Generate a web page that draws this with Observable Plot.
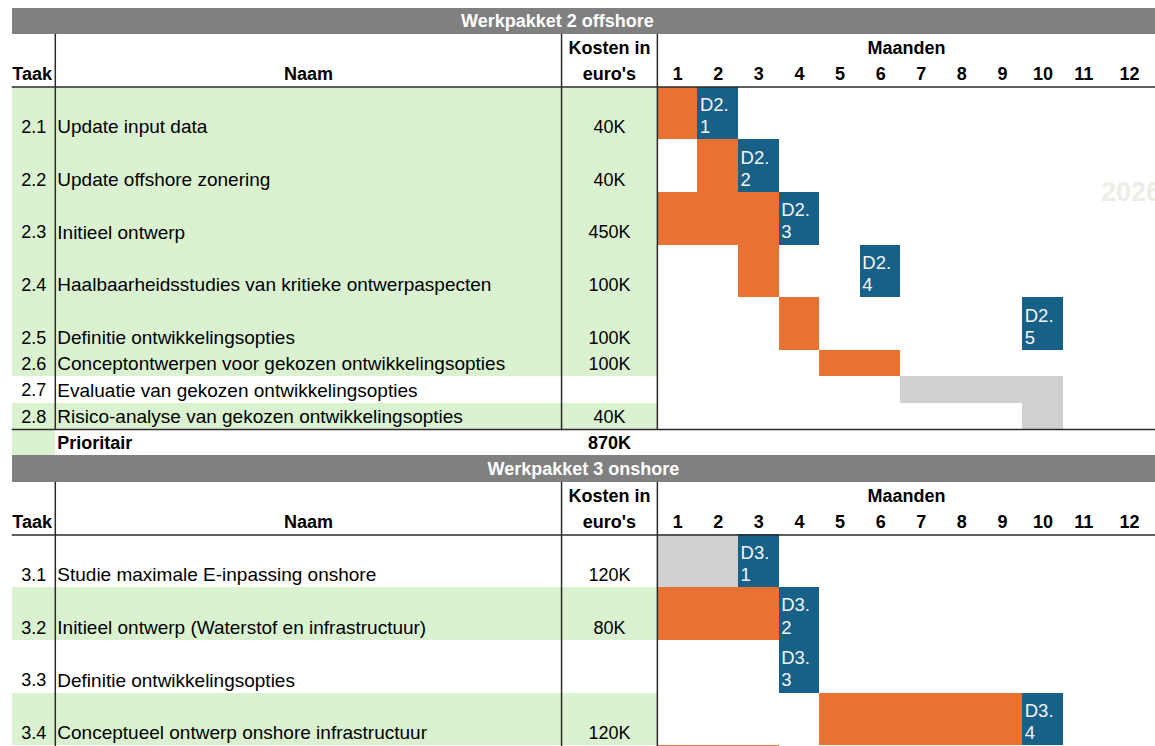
<!DOCTYPE html>
<html>
<head>
<meta charset="utf-8">
<script src="https://cdn.jsdelivr.net/npm/d3@7"></script>
<script src="https://cdn.jsdelivr.net/npm/@observablehq/plot@0.6"></script>
<style>
  html, body { margin: 0; padding: 0; background: #ffffff; }
  #chart svg { display: block; }
</style>
</head>
<body>
<div id="chart"></div>
<script>
// ---- Werkpakket 2: offshore ----
const wp2Title = "Werkpakket 2 offshore";
const wp2Ids = ["2.1", "2.2", "2.3", "2.4", "2.5", "2.6", "2.7", "2.8"];
const wp2Names = [
  "Update input data",
  "Update offshore zonering",
  "Initieel ontwerp",
  "Haalbaarheidsstudies van kritieke ontwerpaspecten",
  "Definitie ontwikkelingsopties",
  "Conceptontwerpen voor gekozen ontwikkelingsopties",
  "Evaluatie van gekozen ontwikkelingsopties",
  "Risico-analyse van gekozen ontwikkelingsopties"
];
const wp2Costs = ["40K", "40K", "450K", "100K", "100K", "100K", "", "40K"];
const wp2Priority = [true, true, true, true, true, true, false, true];
// [first month, last month] of the work, null when none
const wp2Work = [[1, 1], [2, 2], [1, 3], [3, 3], [4, 4], [5, 6], null, null];
const wp2Optional = [null, null, null, null, null, null, [7, 10], [10, 10]];
// month in which the deliverable is handed in
const wp2Deliverable = [2, 3, 4, 6, 10, null, null, null];
const wp2TotalLabel = "Prioritair";
const wp2Total = "870K";

// ---- Werkpakket 3: onshore ----
const wp3Title = "Werkpakket 3 onshore";
const wp3Ids = ["3.1", "3.2", "3.3", "3.4", "3.5"];
const wp3Names = [
  "Studie maximale E-inpassing onshore",
  "Initieel ontwerp (Waterstof en infrastructuur)",
  "Definitie ontwikkelingsopties",
  "Conceptueel ontwerp onshore infrastructuur",
  ""
];
const wp3Costs = ["120K", "80K", "", "120K", ""];
const wp3Priority = [false, true, false, true, false];
const wp3Work = [null, [1, 3], null, [5, 9], [1, 3]];
const wp3Optional = [[1, 2], null, null, null, null];
const wp3Deliverable = [3, 4, 4, 10, null];

// ---- shared header ----
const months = [1, 2, 3, 4, 5, 6, 7, 8, 9, 10, 11, 12];
const headTaak = "Taak";
const headNaam = "Naam";
const headKosten = ["Kosten in", "euro's"];
const headMaanden = "Maanden";
const watermark = "2026";

// ---- layout (x in months, y in row units) ----
const W = 1155, H = 746;
const X = {left: -15.89, taak: -14.83, naam: -2.36, months: 0, right: 12.27};
const xDomain = [-16.18, 12.27];
const yDomain = [-0.285, 28.03];
const titleCenter = {wp2: -2.46, wp3: -1.82};

const colors = {
  band: "#808080",
  green: "#DAF2D0",
  work: "#E97132",
  optional: "#D0D0D0",
  deliverable: "#176087",
  line: "#2b2b2b",
  mark: "#EEEDE4"
};

const bands = [], titles = [], greens = [], cells = [], delivLabels = [];
const idText = [], nameText = [], costText = [], totalLeft = [], totalMid = [];
const headLow = [], headHigh = [], headLeft = [], monthText = [];
const hRules = [], vRules = [];
let cursor = 0;

// adds a green band, merging it with the previous one when they touch
function addGreen(x1, x2, y1, y2) {
  const last = greens[greens.length - 1];
  if (last && last.x1 === x1 && last.x2 === x2 && last.y2 === y1) last.y2 = y2;
  else greens.push({x1, x2, y1, y2});
}

function section(key, title, ids, names, costs, prio, work, opt, deliv, total) {
  bands.push({x1: X.left, x2: X.right, y1: cursor, y2: cursor + 1});
  titles.push({x: titleCenter[key], y: cursor + 0.5, text: title});
  cursor += 1;
  const tableTop = cursor;
  cursor += 2;
  const headBottom = cursor;
  headLeft.push({x: X.left, y: headBottom, text: headTaak});
  headLow.push({x: (X.taak + X.naam) / 2, y: headBottom, text: headNaam});
  headHigh.push({x: (X.naam + X.months) / 2, y: headBottom, text: headKosten[0]});
  headLow.push({x: (X.naam + X.months) / 2, y: headBottom, text: headKosten[1]});
  headHigh.push({x: (X.months + X.right) / 2, y: headBottom, text: headMaanden});
  months.forEach(m => monthText.push({x: (m - 1 + Math.min(m, X.right)) / 2 + (m === 12 ? 0.13 : 0), y: headBottom, text: String(m)}));
  hRules.push({y: headBottom, x1: X.left, x2: X.right});

  ids.forEach((id, i) => {
    const h = deliv[i] != null ? 2 : 1;
    const y1 = cursor, y2 = cursor + h;
    if (prio[i]) addGreen(X.left, X.months, y1, y2);
    if (work[i]) cells.push({x1: work[i][0] - 1, x2: work[i][1], y1, y2, kind: "work"});
    if (opt[i]) cells.push({x1: opt[i][0] - 1, x2: opt[i][1], y1, y2, kind: "optional"});
    if (deliv[i] != null) {
      cells.push({x1: deliv[i] - 1, x2: deliv[i], y1, y2, kind: "deliverable"});
      const [a, b] = id.split(".");
      delivLabels.push({x: deliv[i] - 1, y: y1, text: `D${a}.\n${b}`});
    }
    // row labels sit at the bottom of the row; skip rows that end below the sheet
    if (y2 <= yDomain[1]) {
      idText.push({x: (X.left + X.taak) / 2, y: y2, text: id});
      nameText.push({x: X.taak, y: y2, text: names[i]});
      costText.push({x: (X.naam + X.months) / 2, y: y2, text: costs[i]});
    }
    cursor = y2;
  });

  const bodyBottom = cursor;
  if (total) {
    hRules.push({y: bodyBottom, x1: X.left, x2: X.right});
    addGreen(X.left, X.taak, cursor, cursor + 1);
    totalLeft.push({x: X.taak, y: cursor + 1, text: total[0]});
    totalMid.push({x: (X.naam + X.months) / 2, y: cursor + 1, text: total[1]});
    cursor += 1;
  }
  [X.taak, X.naam, X.months].forEach(x => vRules.push({x, y1: tableTop, y2: bodyBottom}));
}

section("wp2", wp2Title, wp2Ids, wp2Names, wp2Costs, wp2Priority, wp2Work, wp2Optional, wp2Deliverable, [wp2TotalLabel, wp2Total]);
section("wp3", wp3Title, wp3Ids, wp3Names, wp3Costs, wp3Priority, wp3Work, wp3Optional, wp3Deliverable, null);

const font = "'Liberation Sans', Arial, Helvetica, sans-serif";
const txt = {x: "x", y: "y", text: "text", fill: "#000000", fontSize: 18};
const bold = {...txt, fontWeight: "bold"};
const box = {x1: "x1", x2: "x2", y1: "y1", y2: "y2", shapeRendering: "crispEdges"};

const chart = Plot.plot({
  width: W,
  height: H,
  margin: 0,
  x: {type: "linear", domain: xDomain, range: [0, W], axis: null},
  y: {type: "linear", domain: yDomain, range: [0, H], axis: null},
  style: {fontFamily: font, background: "#ffffff", overflow: "hidden"},
  marks: [
    Plot.rect(greens, {...box, fill: colors.green}),
    Plot.rect(cells, {...box, fill: d => colors[d.kind]}),
    Plot.rect(bands, {...box, fill: colors.band}),
    Plot.text([watermark], {x: () => 11, y: () => 7, text: d => d, textAnchor: "start", dx: -3,
      fill: colors.mark, fontSize: 27, fontWeight: "bold"}),
    Plot.text(titles, {...bold, fill: "#ffffff"}),
    Plot.text(headLeft, {...bold, textAnchor: "start", dy: -13}),
    Plot.text(headLow, {...bold, dy: -13}),
    Plot.text(headHigh, {...bold, dy: -39}),
    Plot.text(monthText, {...bold, dy: -13}),
    Plot.text(idText, {...txt, dy: -12.5}),
    Plot.text(nameText, {...txt, fontSize: 19, textAnchor: "start", dx: 2, dy: -12.5}),
    Plot.text(costText, {...txt, dy: -12.5}),
    Plot.text(totalLeft, {...bold, textAnchor: "start", dx: 2, dy: -13}),
    Plot.text(totalMid, {...bold, dy: -13}),
    Plot.text(delivLabels, {x: "x", y: "y", text: "text", textAnchor: "start", lineAnchor: "top",
      dx: 2, dy: 8, lineHeight: 1.2, fill: "#f2f5f7", fontSize: 18.5}),
    Plot.ruleY(hRules, {y: "y", x1: "x1", x2: "x2", stroke: colors.line, strokeWidth: 1.5}),
    Plot.ruleX(vRules, {x: "x", y1: "y1", y2: "y2", stroke: colors.line, strokeWidth: 1.5})
  ]
});

document.getElementById("chart").append(chart);
</script>
</body>
</html>
